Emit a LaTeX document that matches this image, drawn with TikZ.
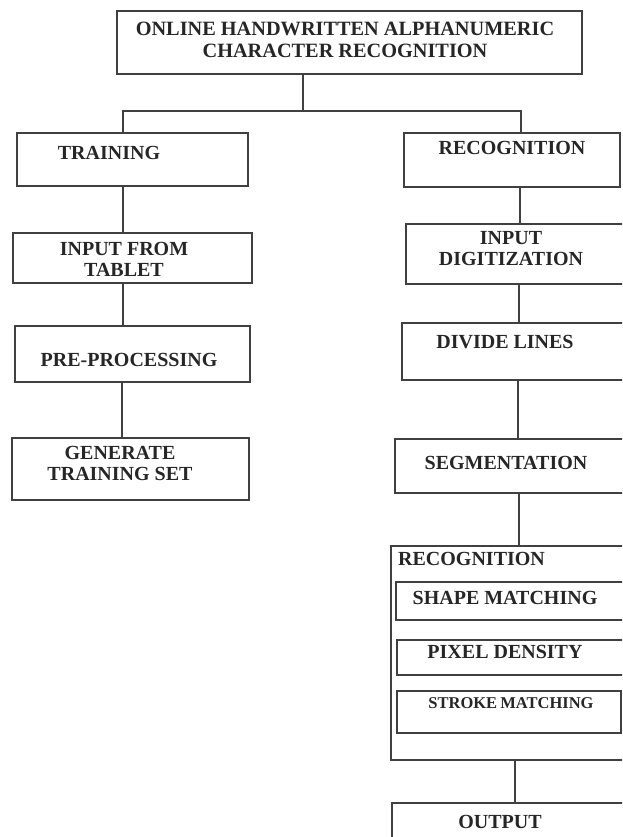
\documentclass[tikz,border=0pt]{standalone}
\usepackage{fontspec}
\setmainfont{Liberation Serif}
\usepackage{tikz}
\usetikzlibrary{calc,positioning}

\tikzset{
  blk/.style={draw=black!75, line width=1.1pt, inner sep=0pt, fill=white},
  lbl/.style={font=\bfseries\fontsize{20}{21}\selectfont, text=black!85, inner sep=0pt, align=center},
  lnk/.style={draw=black!75, line width=1.1pt}
}
% box from its corners (x1,y1) to (x2,y2), in pixels of the page
\newcommand{\blk}[5]{\node[blk, minimum width={#4-#2}, minimum height={#5-#3}] (#1) at ({(#2+#4)/2},{(#3+#5)/2}) {};}

\begin{document}
\begin{tikzpicture}[x=1pt,y=-1pt]
\useasboundingbox (0,0) rectangle (622,837);
\clip (0,0) rectangle (622,837);

% title
\blk{title}{117}{11}{582}{74}
\node[lbl, font=\bfseries\fontsize{20.3}{22}\selectfont] (ltitle) at (345,40) {ONLINE HANDWRITTEN ALPHANUMERIC\\CHARACTER RECOGNITION};

% training side
\blk{train}{17}{133}{248}{186}
\blk{tablet}{13}{233}{252}{283}
\blk{prepro}{15}{326}{250}{382}
\blk{genset}{12}{438}{249}{500}
\node[lbl] (ltrain) at (109,153) {TRAINING};
\node[lbl] (ltablet) at (124,259) {INPUT FROM\\TABLET};
\node[lbl] (lprepro) at (129,360) {PRE-PROCESSING};
\node[lbl] (lgenset) at (120,463) {GENERATE\\TRAINING SET};

% recognition side
\blk{recog}{404}{133}{620}{187}
\blk{digit}{406}{224}{630}{284}
\blk{divide}{402}{323}{630}{380}
\blk{segm}{395}{439}{630}{493}
\blk{match}{391}{546}{630}{760}
\blk{shape}{396}{582}{630}{620}
\blk{pixel}{397}{640}{630}{675}
\blk{stroke}{397}{691}{621}{733}
\blk{output}{392}{803}{630}{850}
\node[lbl] (lrecog) at (512,148) {RECOGNITION};
\node[lbl] (ldigit) at (511,249) {INPUT\\DIGITIZATION};
\node[lbl] (ldivide) at (505,342) {DIVIDE LINES};
\node[lbl] (lsegm) at (506,463) {SEGMENTATION};
\node[lbl, anchor=west] (lmatch) at (398,559) {RECOGNITION};
\node[lbl] (lshape) at (505,598) {SHAPE MATCHING};
\node[lbl] (lpixel) at (505,652) {PIXEL DENSITY};
\node[lbl, font=\bfseries\fontsize{16.5}{18}\selectfont] (lstroke) at (511,703) {STROKE\hspace{-1pt} MATCHING};
\node[lbl] (loutput) at (500,822) {OUTPUT};

% connectors
\coordinate (split) at (303,111);
\coordinate (lx) at (123,0);
\coordinate (rx) at (521,0);
\draw[lnk] (title.south -| split) -- (split);
\draw[lnk] (train.north -| lx) |- (split) -| (recog.north -| rx);
\draw[lnk] (train.south -| lx) -- (tablet.north -| lx);
\draw[lnk] (tablet.south -| lx) -- (prepro.north -| lx);
\draw[lnk] ($(prepro.south -| lx)+(-1,0)$) -- ($(genset.north -| lx)+(-1,0)$);
\draw[lnk] ($(recog.south -| rx)+(-1,0)$) -- ($(digit.north -| rx)+(-1,0)$);
\draw[lnk] ($(digit.south -| rx)+(-2,0)$) -- ($(divide.north -| rx)+(-2,0)$);
\draw[lnk] ($(divide.south -| rx)+(-3,0)$) -- ($(segm.north -| rx)+(-3,0)$);
\draw[lnk] ($(segm.south -| rx)+(-2,0)$) -- ($(match.north -| rx)+(-2,0)$);
\draw[lnk] ($(match.south -| rx)+(-6,0)$) -- ($(output.north -| rx)+(-6,0)$);
\end{tikzpicture}
\end{document}
